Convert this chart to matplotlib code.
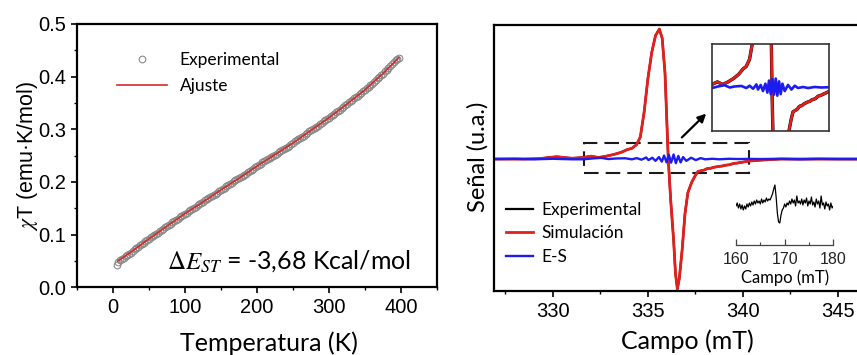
import numpy as np
import matplotlib
matplotlib.use("Agg")
import matplotlib.pyplot as plt
from matplotlib.patches import Rectangle
from matplotlib.ticker import MultipleLocator, FormatStrFormatter

plt.rcParams["mathtext.fontset"] = "stix"

# ---------------- magnetic susceptibility data ----------------
temp_exp = [5, 7.5, 10, 12.5, 15, 17.5, 20, 22.5, 25, 27.5, 30, 32.5, 35, 37.5, 40, 42.5,
            45, 47.5, 50, 52.5, 55, 57.5, 60, 62.5, 65, 67.5, 70, 72.5, 75, 77.5, 80, 82.5,
            85, 87.5, 90, 92.5, 95, 97.5, 100, 102.5, 105, 107.5, 110, 112.5, 115, 117.5,
            120, 122.5, 125, 127.5, 130, 132.5, 135, 137.5, 140, 142.5, 145, 147.5, 150,
            152.5, 155, 157.5, 160, 162.5, 165, 167.5, 170, 172.5, 175, 177.5, 180, 182.5,
            185, 187.5, 190, 192.5, 195, 197.5, 200, 202.5, 205, 207.5, 210, 212.5, 215,
            217.5, 220, 222.5, 225, 227.5, 230, 232.5, 235, 237.5, 240, 242.5, 245, 247.5,
            250, 252.5, 255, 257.5, 260, 262.5, 265, 267.5, 270, 272.5, 275, 277.5, 280,
            282.5, 285, 287.5, 290, 292.5, 295, 297.5, 300, 302.5, 305, 307.5, 310, 312.5,
            315, 317.5, 320, 322.5, 325, 327.5, 330, 332.5, 335, 337.5, 340, 342.5, 345,
            347.5, 350, 352.5, 355, 357.5, 360, 362.5, 365, 367.5, 370, 372.5, 375, 377.5,
            380, 382.5, 385, 387.5, 390, 392.5, 395, 397.5]
chiT_exp = [0.043, 0.048, 0.051, 0.054, 0.056, 0.059, 0.061, 0.064, 0.066, 0.069, 0.072,
            0.075, 0.077, 0.080, 0.082, 0.085, 0.087, 0.090, 0.092, 0.095, 0.097, 0.100,
            0.102, 0.104, 0.106, 0.109, 0.111, 0.114, 0.116, 0.119, 0.121, 0.124, 0.126,
            0.128, 0.130, 0.133, 0.135, 0.138, 0.140, 0.142, 0.144, 0.147, 0.149, 0.151,
            0.153, 0.156, 0.158, 0.160, 0.162, 0.165, 0.167, 0.169, 0.171, 0.174, 0.176,
            0.178, 0.180, 0.183, 0.185, 0.187, 0.189, 0.192, 0.194, 0.196, 0.198, 0.201,
            0.203, 0.205, 0.207, 0.210, 0.212, 0.214, 0.216, 0.219, 0.221, 0.223, 0.225,
            0.228, 0.230, 0.232, 0.234, 0.237, 0.239, 0.241, 0.243, 0.245, 0.247, 0.250,
            0.252, 0.254, 0.256, 0.258, 0.260, 0.263, 0.265, 0.267, 0.269, 0.272, 0.274,
            0.277, 0.279, 0.281, 0.283, 0.286, 0.288, 0.291, 0.293, 0.296, 0.298, 0.301,
            0.303, 0.305, 0.307, 0.310, 0.312, 0.315, 0.317, 0.320, 0.322, 0.325, 0.327,
            0.330, 0.332, 0.335, 0.337, 0.340, 0.343, 0.346, 0.348, 0.351, 0.353, 0.356,
            0.359, 0.362, 0.364, 0.367, 0.369, 0.372, 0.375, 0.378, 0.381, 0.384, 0.387,
            0.390, 0.393, 0.397, 0.400, 0.403, 0.406, 0.410, 0.413, 0.417, 0.420, 0.424,
            0.427, 0.431, 0.434, 0.436]
temp_fit = [7, 25, 50, 75, 100, 125, 150, 175, 200, 225, 250, 275, 300, 325, 350, 375, 397]
chiT_fit = [0.050, 0.067, 0.092, 0.116, 0.140, 0.162, 0.185, 0.207, 0.230, 0.252, 0.274,
            0.298, 0.322, 0.348, 0.375, 0.406, 0.436]

# ---------------- EPR spectrum (normalised) ----------------
field_sim = [326.9, 328.5, 329.3, 329.8, 330.2, 330.6, 331.0, 331.6, 332.0, 332.4, 332.8,
             333.2, 333.6, 333.9, 334.15, 334.4, 334.6, 334.8, 335.0, 335.2, 335.4, 335.6,
             335.75, 335.9, 336.07, 336.2, 336.35, 336.45, 336.55, 336.65, 336.8, 336.95,
             337.1, 337.3, 337.5, 337.64, 337.8, 337.95, 338.13, 338.3, 338.45, 338.76,
             338.9, 339.05, 339.3, 339.5, 339.7, 339.9, 340.3, 340.8, 341.3, 342.0, 348.0]
signal_sim = [0.0, 0.0, 0.003, 0.012, 0.018, 0.012, 0.006, 0.012, 0.022, 0.012, 0.022,
              0.035, 0.052, 0.072, 0.082, 0.11, 0.17, 0.36, 0.62, 0.82, 0.95, 1.0,
              0.93, 0.66, 0.0, -0.32, -0.62, -0.88, -1.0, -0.92, -0.70, -0.42,
              -0.26, -0.18, -0.125, -0.095, -0.09, -0.085, -0.073, -0.071, -0.064, -0.056,
              -0.054, -0.048, -0.044, -0.034, -0.031, -0.026, -0.016, -0.010, -0.005, 0.0, 0.0]

field_res = [326.9, 328.0, 329.0, 330.0, 331.0, 331.6, 332.05, 332.54, 332.92, 333.29,
             333.79, 334.16, 334.41, 334.66, 334.91, 335.03, 335.23, 335.40, 335.58, 335.73,
             335.85, 335.98, 336.10, 336.22, 336.35, 336.47, 336.60, 336.72, 336.85, 337.02,
             337.27, 337.52, 337.77, 338.01, 338.39, 338.76, 339.26, 339.75, 340.3, 341.0,
             342.0, 343.0, 344.0, 345.0, 348.0]
signal_res = [0.0, 0.002, -0.002, 0.002, -0.002, -0.002, 0.004, 0.009, 0.0, 0.004,
              0.006, -0.002, 0.007, -0.005, 0.012, -0.008, 0.010, -0.014, 0.015, -0.020,
              0.027, -0.026, 0.033, -0.028, 0.035, -0.032, 0.024, -0.026, 0.015, -0.014,
              0.010, -0.008, 0.007, -0.002, 0.002, -0.002, 0.002, 0.0, 0.001, 0.0,
              0.002, -0.002, 0.002, 0.0, 0.0]

# half-field transition (arbitrary units), sampled every 0.25 mT from 160 mT
hf_signal = [-0.05, 0.10, -0.15, 0.05, -0.20, 0.00, -0.25, -0.05, -0.20, 0.05, -0.10, 0.10,
             -0.05, 0.15, 0.00, 0.20, 0.05, 0.25, 0.10, 0.20, 0.05, 0.30, 0.10, 0.25,
             0.15, 0.35, 0.20, 0.30, 0.25, 0.40, 0.55, 0.80, 1.00, 0.40, -0.40, -0.85,
             -0.90, -0.50, -0.25, -0.15, 0.05, -0.10, 0.10, 0.00, 0.20, 0.05, 0.30, 0.10,
             0.25, -0.05, 0.45, 0.10, 0.20, 0.05, 0.30, 0.00, 0.25, 0.10, 0.35, -0.05,
             0.20, 0.05, 0.40, 0.00, 0.15, -0.10, 0.30, 0.05, 0.20, -0.15, 0.45, 0.00,
             0.10, -0.20, 0.15, -0.05, 0.05, -0.25, 0.10, -0.15, -0.05]
hf_field = np.arange(len(hf_signal)) * 0.25 + 160.0

RED = "#e3201b"
BLUE = "#1c1cf0"
TXT = "Lato"
NUM = "Liberation Sans"

W, H = 857, 355
fig = plt.figure(figsize=(W / 100, H / 100), dpi=100)


def box(x0, y0, x1, y1):
    return [x0 / W, 1 - y1 / H, (x1 - x0) / W, (y1 - y0) / H]


# ================= left panel =================
ax1 = fig.add_axes(box(77, 24, 437, 287.3))
ax1.plot(temp_exp, chiT_exp, "o", ms=4.8, mfc="none", mec="#8a8a8a", mew=0.8,
         label="Experimental")
ax1.plot(temp_fit, chiT_fit, "-", color="#d42a2a", lw=1.2, label="Ajuste")
ax1.set_xlim(-50, 450)
ax1.set_ylim(0, 0.5)
ax1.xaxis.set_major_locator(MultipleLocator(100))
ax1.xaxis.set_minor_locator(MultipleLocator(50))
ax1.yaxis.set_major_locator(MultipleLocator(0.1))
ax1.yaxis.set_minor_locator(MultipleLocator(0.05))
ax1.yaxis.set_major_formatter(FormatStrFormatter("%.1f"))
for sp in ax1.spines.values():
    sp.set_linewidth(1.6)
ax1.tick_params(which="major", direction="out", length=4, width=1.2, pad=4)
ax1.tick_params(which="minor", direction="out", length=2.5, width=1.0)
for lab in ax1.get_xticklabels() + ax1.get_yticklabels():
    lab.set_fontfamily(NUM)
    lab.set_fontsize(14.5)
ax1.set_xlabel("Temperatura (K)", family=TXT, fontsize=18)
ax1.xaxis.set_label_coords((269 - 77) / 360, -(343 - 287.3) / 263.3, transform=ax1.transAxes)
ax1.xaxis.label.set_va("center")
ax1.set_ylabel(r"$\chi$T (emu·K/mol)", family=NUM, fontsize=15.5)
ax1.yaxis.set_label_coords(-(77 - 27) / 360, 0.5, transform=ax1.transAxes)
ax1.yaxis.label.set_va("center")
ax1.legend(loc="upper left", bbox_to_anchor=(117 / W, 1 - 52 / H),
           bbox_transform=fig.transFigure, frameon=False, numpoints=1,
           handlelength=2.9, handletextpad=0.7, borderpad=0, borderaxespad=0,
           labelspacing=0.6, prop={"family": TXT, "size": 12.5})
fig.text(167 / W, 1 - 269 / H, r"$\Delta E_{ST}$ = -3,68 Kcal/mol", family=TXT,
         fontsize=18, va="baseline")

# ================= right panel =================
ax2 = fig.add_axes(box(494, 25, 860, 291))
ax2.plot(field_sim, signal_sim, color="black", lw=1.6, label="Experimental")
ax2.plot(field_sim, signal_sim, color=RED, lw=2.0, label="Simulación")
ax2.plot(field_res, signal_res, color=BLUE, lw=1.7, label="E-S")
ax2.set_xlim(326.9, 346.16)
ax2.set_ylim(-1.015, 1.031)
ax2.xaxis.set_major_locator(MultipleLocator(5))
ax2.xaxis.set_minor_locator(MultipleLocator(2.5))
ax2.set_yticks([])
for sp in ax2.spines.values():
    sp.set_linewidth(1.6)
ax2.tick_params(which="major", direction="out", length=4, width=1.2, pad=4)
ax2.tick_params(which="minor", direction="out", length=2.5, width=1.0)
for lab in ax2.get_xticklabels():
    lab.set_fontfamily(NUM)
    lab.set_fontsize(14.5)
ax2.set_xlabel("Campo (mT)", family=TXT, fontsize=18)
ax2.xaxis.set_label_coords((687 - 494) / 366, -(341 - 291) / 266, transform=ax2.transAxes)
ax2.xaxis.label.set_va("center")
ax2.set_ylabel("Señal (u.a.)", family=TXT, fontsize=17)
ax2.yaxis.set_label_coords(-(494 - 478) / 366, (291 - 157) / 266, transform=ax2.transAxes)
ax2.yaxis.label.set_va("center")
ax2.legend(loc="upper left", bbox_to_anchor=(506 / W, 1 - 202 / H),
           bbox_transform=fig.transFigure, frameon=False,
           handlelength=1.55, handletextpad=0.5, borderpad=0, borderaxespad=0,
           labelspacing=0.42, prop={"family": TXT, "size": 12.5})

# dashed zoom region and arrow
zx0, zx1, zy0, zy1 = 331.63, 340.33, -0.105, 0.121
ax2.add_patch(Rectangle((zx0, zy0), zx1 - zx0, zy1 - zy0, fill=False,
                        ec="#1a1a1a", lw=1.5, ls=(0, (7, 3.4))))
ax2.annotate("", xy=(338.17, 0.364), xytext=(336.68, 0.151),
             arrowprops=dict(arrowstyle="-|>", color="black", lw=1.6,
                             mutation_scale=12))

# zoomed inset
axz = fig.add_axes(box(712, 44, 828.7, 131))
axz.plot(field_sim, signal_sim, color="black", lw=2.4)
axz.plot(field_sim, signal_sim, color=RED, lw=1.9)
axz.plot(field_res, signal_res, color=BLUE, lw=1.9)
axz.set_xlim(331.6, 340.3)
axz.set_ylim(-0.17, 0.17)
axz.set_xticks([])
axz.set_yticks([])
for sp in axz.spines.values():
    sp.set_linewidth(1.2)
    sp.set_color("#333333")

# half-field inset
axh = fig.add_axes(box(736, 181, 833.3, 245))
axh.plot(hf_field, hf_signal, color="black", lw=0.9)
axh.set_xlim(160, 180)
axh.set_ylim(-2.0, 1.2)
axh.patch.set_alpha(0)
for s in ("top", "left", "right"):
    axh.spines[s].set_visible(False)
axh.spines["bottom"].set_linewidth(0.9)
axh.spines["bottom"].set_color("#444444")
axh.set_yticks([])
axh.xaxis.set_major_locator(MultipleLocator(10))
axh.xaxis.set_minor_locator(MultipleLocator(5))
axh.tick_params(which="major", direction="in", length=4, width=0.9, pad=5, colors="#444444")
axh.tick_params(which="minor", direction="in", length=2.5, width=0.8, colors="#444444")
for lab in axh.get_xticklabels():
    lab.set_fontfamily(NUM)
    lab.set_fontsize(11.5)
    lab.set_color("#222222")
axh.set_xlabel("Campo (mT)", family=TXT, fontsize=12, labelpad=2)

fig.savefig("out.png", dpi=100)
